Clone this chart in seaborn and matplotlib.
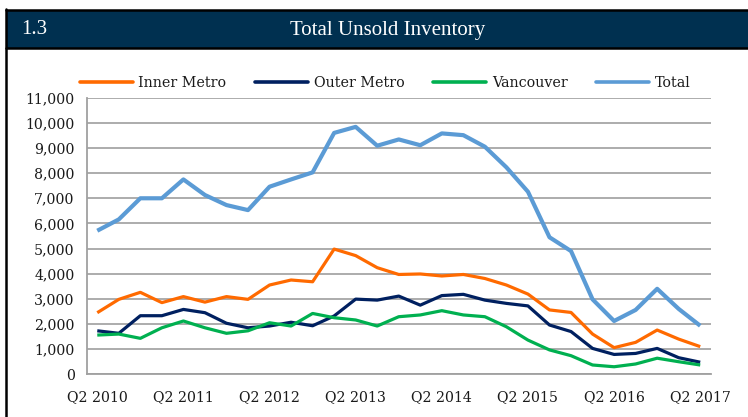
import matplotlib
matplotlib.use("Agg")
import matplotlib.pyplot as plt
import seaborn as sns
import pandas as pd
from matplotlib.patches import Rectangle
from matplotlib.lines import Line2D

quarters = []
for y in range(2010, 2018):
    for q in range(1, 5):
        if (y == 2010 and q < 2) or (y == 2017 and q > 2):
            continue
        quarters.append(f"Q{q} {y}")

inner_metro = [2450, 2980, 3260, 2850, 3090, 2870, 3090, 2980, 3550, 3750, 3680, 4980, 4720, 4240,
               3970, 3990, 3910, 3970, 3810, 3550, 3190, 2560, 2460, 1600, 1060, 1270, 1760, 1400, 1100]
outer_metro = [1730, 1630, 2330, 2330, 2580, 2450, 2030, 1850, 1920, 2070, 1930, 2320, 2990, 2950,
               3110, 2750, 3130, 3180, 2950, 2820, 2720, 1960, 1700, 1030, 790, 830, 1030, 660, 480]
vancouver = [1560, 1600, 1430, 1850, 2120, 1850, 1630, 1730, 2050, 1920, 2420, 2250, 2160, 1920,
             2290, 2360, 2530, 2360, 2290, 1890, 1360, 970, 740, 370, 300, 410, 640, 500, 370]
total = [5710, 6160, 7000, 7000, 7750, 7130, 6730, 6530, 7460, 7750, 8030, 9600, 9840, 9090,
         9340, 9110, 9580, 9510, 9050, 8230, 7260, 5450, 4900, 2980, 2120, 2560, 3400, 2600, 1930]

series_names = ["Inner Metro", "Outer Metro", "Vancouver", "Total"]
colors = ["#FF6A00", "#002060", "#00B050", "#5B9BD5"]
widths = [2.3, 2.3, 2.3, 3.0]
ytick_vals = list(range(0, 11001, 1000))
label_idx = list(range(0, len(quarters), 4))

rows = []
for name, vals in zip(series_names, [inner_metro, outer_metro, vancouver, total]):
    for i, v in enumerate(vals):
        rows.append({"idx": i, "quarter": quarters[i], "series": name, "value": v})
df = pd.DataFrame(rows)

sns.set_theme(style="white")
serif = ["DejaVu Serif"]
title_font = ["Liberation Serif", "DejaVu Serif"]
plt.rcParams["font.family"] = serif

fig = plt.figure(figsize=(7.48, 4.17), dpi=100)
W, H = 748, 417

def fx(px):
    return px / W

def fy(py):
    return 1 - py / H

# header bar and borders
fig.patches.append(Rectangle((fx(6), fy(48)), 1, (48 - 10) / H, transform=fig.transFigure,
                             facecolor="#003050", edgecolor="none", zorder=0))
fig.lines.append(Line2D([fx(6), 1], [fy(10), fy(10)], transform=fig.transFigure, color="black", lw=1.8))
fig.lines.append(Line2D([fx(6), 1], [fy(48), fy(48)], transform=fig.transFigure, color="black", lw=1.8))
fig.lines.append(Line2D([fx(6), fx(6)], [fy(9), 0], transform=fig.transFigure, color="black", lw=1.8))
fig.text(fx(21), fy(30), "1.3", color="white", fontsize=15, ha="left", va="center", family=title_font)
fig.text(fx(388), fy(30), "Total Unsold Inventory", color="white", fontsize=15, ha="center",
         va="center", family=title_font)

ax = fig.add_axes([fx(86.5), fy(374.3), (711 - 86.5) / W, (374.3 - 97.7) / H])
sns.lineplot(data=df, x="idx", y="value", hue="series", hue_order=series_names,
             palette=colors, ax=ax, legend=False)
for line, lw in zip(ax.lines, widths):
    line.set_linewidth(lw)
    line.set_solid_capstyle("butt")

ax.set_xlim(-0.5, len(quarters) - 0.5)
ax.set_ylim(0, 11000)
ax.set_yticks(ytick_vals)
ax.set_yticklabels([f"{v:,}" for v in ytick_vals])
ax.set_xticks([i - 0.5 for i in range(0, len(quarters), 2)])
ax.set_xticklabels([])
ax.set_xticks(label_idx, minor=True)
ax.set_xticklabels([quarters[i] for i in label_idx], minor=True)
ax.tick_params(axis="x", which="major", length=5, width=1.2, color="#A0A0A0", direction="out")
ax.tick_params(axis="x", which="minor", length=0, pad=11.5, labelsize=10.2, labelcolor="#1a1a1a")
ax.tick_params(axis="y", length=5, width=1.2, color="#A0A0A0", direction="out", labelsize=10.2,
               pad=3.5, labelcolor="#1a1a1a")
ax.grid(axis="y", color="#A6A6A6", lw=1.3)
ax.set_axisbelow(True)
for s in ["top", "right"]:
    ax.spines[s].set_visible(False)
for s in ["left", "bottom"]:
    ax.spines[s].set_color("#A0A0A0")
    ax.spines[s].set_linewidth(1.3)
ax.set_xlabel("")
ax.set_ylabel("")

handles = [Line2D([], [], color=c, lw=2.6) for c in colors]
leg = fig.legend(handles, series_names, loc="center", bbox_to_anchor=(fx(385), fy(83)), ncol=4,
                 frameon=False, fontsize=10.3, handlelength=3.7, columnspacing=2.0, handletextpad=0.4)
for t in leg.get_texts():
    t.set_color("#1a1a1a")

fig.savefig("out.png", dpi=100)
